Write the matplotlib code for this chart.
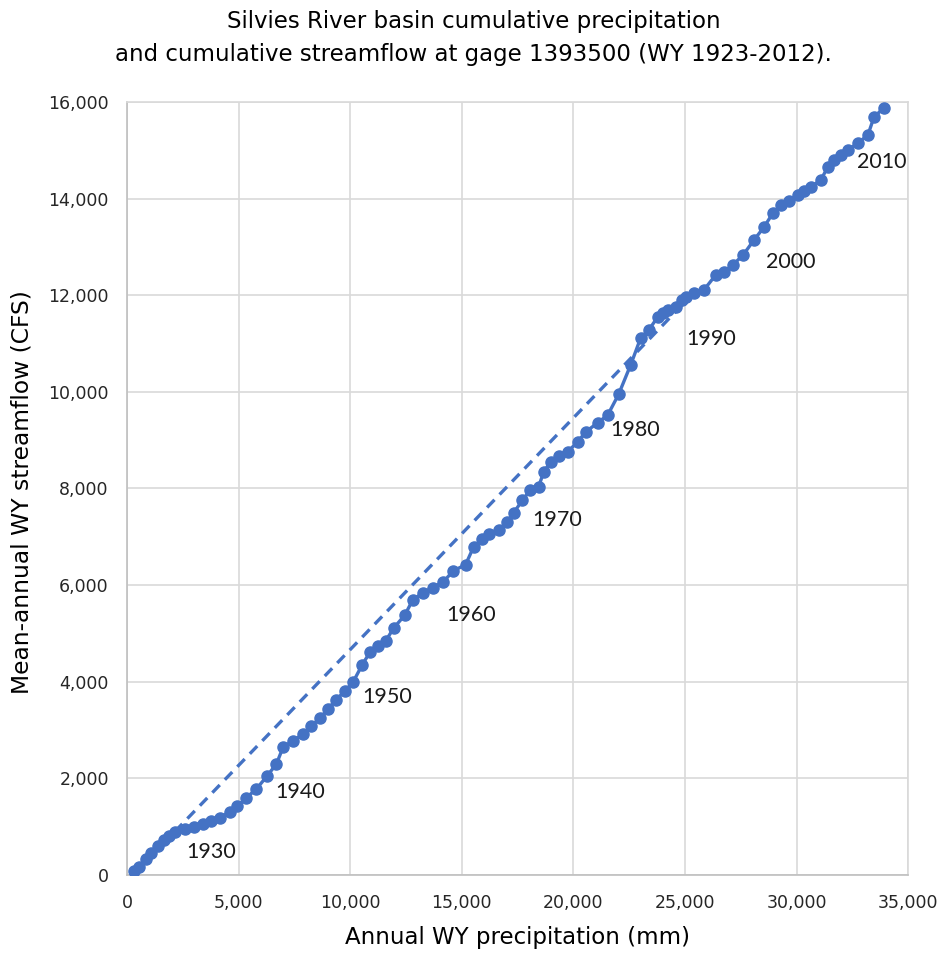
import matplotlib
matplotlib.use("Agg")
import matplotlib.pyplot as plt
from matplotlib.ticker import FuncFormatter, MultipleLocator


BLUE = "#4472C4"
GRID = "#D9D9D9"
LABEL_FONT = ["Lato", "DejaVu Sans"]

# Cumulative water-year totals, WY 1923-2012
years = list(range(1923, 2013))
cum_precip = [
    300, 560, 850, 1100, 1400, 1650, 1900, 2150,
    2600, 3000, 3400, 3750, 4150, 4600, 4950, 5350, 5800, 6280,
    6700, 7000, 7450, 7900, 8250, 8650, 9000, 9350, 9750, 10140,
    10540, 10900, 11250, 11600, 11950, 12450, 12800, 13250, 13700, 14180,
    14630, 15170, 15530, 15900, 16200, 16650, 17050, 17320, 17720, 18080,
    18440, 18670, 18980, 19350, 19740, 20190, 20550, 21090, 21540, 22030,
    22570, 23020, 23380, 23780, 24000, 24230, 24590, 24850, 25040, 25400,
    25850, 26380, 26740, 27150, 27600, 28090, 28540, 28940, 29300, 29650,
    30060, 30350, 30650, 31090, 31410, 31680, 32000, 32310, 32760, 33200,
    33470, 33920,
]
cum_flow = [
    90, 160, 330, 450, 600, 720, 800, 900,
    950, 990, 1060, 1110, 1180, 1310, 1420, 1600, 1780, 2050,
    2300, 2650, 2780, 2920, 3080, 3250, 3430, 3620, 3800, 4000,
    4350, 4620, 4730, 4850, 5110, 5380, 5690, 5840, 5950, 6070,
    6300, 6420, 6790, 6950, 7060, 7150, 7310, 7490, 7760, 7970,
    8030, 8340, 8550, 8680, 8760, 8960, 9170, 9360, 9520, 9950,
    10560, 11120, 11280, 11550, 11640, 11700, 11760, 11900, 11960, 12050,
    12110, 12420, 12480, 12630, 12830, 13140, 13410, 13700, 13870, 13960,
    14080, 14160, 14240, 14390, 14660, 14800, 14900, 15010, 15150, 15320,
    15690, 15880,
]

# Reference line between WY 1930 and WY 1990
trend_years = [1930, 1990]

# Decade annotations (label anchor in data units)
decade_labels = ["1930", "1940", "1950", "1960", "1970", "1980", "1990", "2000", "2010"]
decade_x = [2650, 6650, 10550, 14300, 18150, 21650, 25050, 28650, 32700]
decade_y = [480, 1720, 3690, 5380, 7350, 9210, 11100, 12690, 14760]


def thousands(v, _pos):
    return f"{int(v):,}"


def double_mass_plot() -> None:
    plt.rcParams["font.family"] = "DejaVu Sans"
    fig = plt.figure(figsize=(9.47, 9.6), dpi=100)
    ax = fig.add_axes([0.134, 0.0885, 0.825, 0.8053])

    i0 = years.index(trend_years[0])
    i1 = years.index(trend_years[1])
    ax.plot([cum_precip[i0], cum_precip[i1]], [cum_flow[i0], cum_flow[i1]],
            color=BLUE, lw=2.4, ls=(0, (3.2, 2.2)), zorder=2)
    ax.plot(cum_precip, cum_flow, color=BLUE, lw=2.4, marker="o",
            ms=8, mec=BLUE, mfc=BLUE, zorder=3)

    for txt, x, y in zip(decade_labels, decade_x, decade_y):
        ax.text(x, y, txt, fontsize=15.5, va="center", ha="left",
                family=LABEL_FONT, color="#1a1a1a")

    ax.set_xlim(0, 35000)
    ax.set_ylim(0, 16000)
    ax.xaxis.set_major_locator(MultipleLocator(5000))
    ax.yaxis.set_major_locator(MultipleLocator(2000))
    ax.xaxis.set_major_formatter(FuncFormatter(thousands))
    ax.yaxis.set_major_formatter(FuncFormatter(thousands))
    ax.grid(True, color=GRID, lw=1.2)
    ax.set_axisbelow(True)
    for side in ["top", "right"]:
        ax.spines[side].set_color(GRID)
        ax.spines[side].set_linewidth(1.2)
    for side in ["bottom", "left"]:
        ax.spines[side].set_color("#BFBFBF")
        ax.spines[side].set_linewidth(1.2)
    ax.tick_params(length=0, labelsize=12.5, labelcolor="#262626")
    ax.tick_params(axis="x", pad=14)
    ax.tick_params(axis="y", pad=13)

    ax.set_xlabel("Annual WY precipitation (mm)", fontsize=16.5)
    ax.set_ylabel("Mean-annual WY streamflow (CFS)", fontsize=16.8)
    ax.xaxis.set_label_coords(0.5, -0.066)
    ax.yaxis.set_label_coords(-0.119, 0.495)
    fig.text(0.5, 1 - 38 / 960,
             "Silvies River basin cumulative precipitation\n"
             "and cumulative streamflow at gage 1393500 (WY 1923-2012).",
             ha="center", va="center", fontsize=16.5, linespacing=1.55)

    fig.savefig("out.png", dpi=100)


def main():
    double_mass_plot()


if __name__ == "__main__":
    main()
